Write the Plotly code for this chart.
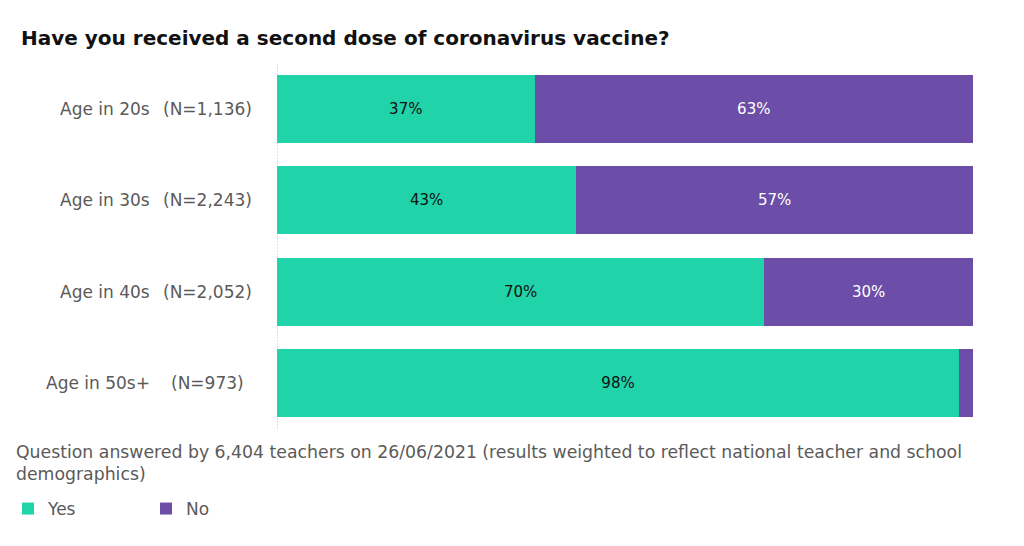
import plotly.graph_objects as go

categories = ["Age in 20s", "Age in 30s", "Age in 40s", "Age in 50s+"]
sample_sizes = ["(N=1,136)", "(N=2,243)", "(N=2,052)", "(N=973)"]
yes_values = [37, 43, 70, 98]
no_values = [63, 57, 30, 2]

title_text = "Have you received a second dose of coronavirus vaccine?"
footnote = ("Question answered by 6,404 teachers on 26/06/2021 (results weighted to reflect national teacher and school"
            "<br>demographics)")

GREEN = "#20D3A9"
PURPLE = "#6C4DA8"
GRAY = "#5a5a5a"
FONT = "DejaVu Sans"

def labels(vals):
    return [f"{v}%" if v >= 5 else "" for v in vals]

fig = go.Figure()
fig.add_trace(go.Bar(
    y=categories, x=yes_values, name="Yes", orientation="h",
    marker=dict(color=GREEN, line=dict(width=0)),
    text=labels(yes_values), textposition="inside", insidetextanchor="middle",
    textfont=dict(color="#111111", size=15, family=FONT), hoverinfo="x+name",
))
fig.add_trace(go.Bar(
    y=categories, x=no_values, name="No", orientation="h",
    marker=dict(color=PURPLE, line=dict(width=0)),
    text=labels(no_values), textposition="inside", insidetextanchor="middle",
    textfont=dict(color="#ffffff", size=15, family=FONT), hoverinfo="x+name",
))

# page offset (body margin) compensation
OFF = 8
W, H = 1024 - OFF, 546 - OFF
ml = 277 - OFF
mr = W - (973 - OFF)
mt = 63 - OFF
mb = H - (429 - OFF)
pw = W - ml - mr
ph = H - mt - mb

def px_x(x):
    return (x - OFF - ml) / pw

def px_y(y):
    return (H - mb - (y - OFF)) / ph

annotations = []
for cat, n in zip(categories, sample_sizes):
    annotations.append(dict(x=px_x(152), xref="paper", y=cat, yref="y", text=cat,
                            showarrow=False, xanchor="right", yanchor="middle",
                            font=dict(family=FONT, size=17, color=GRAY)))
    annotations.append(dict(x=px_x(207), xref="paper", y=cat, yref="y", text=n,
                            showarrow=False, xanchor="center", yanchor="middle",
                            font=dict(family=FONT, size=17, color=GRAY)))

annotations.append(dict(x=px_x(19), xref="paper", y=px_y(38), yref="paper", text=f"<b>{title_text}</b>",
                        showarrow=False, xanchor="left", yanchor="middle",
                        font=dict(family=FONT, size=20, color="#111111")))
annotations.append(dict(x=px_x(14), xref="paper", y=px_y(440), yref="paper", text=footnote,
                        showarrow=False, xanchor="left", yanchor="top", align="left",
                        font=dict(family=FONT, size=17.3, color=GRAY)))

fig.update_layout(
    width=W, height=H,
    margin=dict(l=ml, r=mr, t=mt, b=mb, pad=0),
    barmode="stack", bargap=0.26,
    plot_bgcolor="white", paper_bgcolor="white",
    font=dict(family=FONT, size=17, color=GRAY),
    xaxis=dict(range=[0, 100], showgrid=False, zeroline=False, showticklabels=False,
               showline=False, fixedrange=True),
    yaxis=dict(autorange="reversed", showgrid=False, zeroline=False, showticklabels=False,
               showline=False, fixedrange=True),
    showlegend=True,
    legend=dict(orientation="h", xref="container", yref="container",
                x=(0 - OFF) / W, xanchor="left", y=(H - (509 - OFF)) / H, yanchor="middle",
                entrywidth=93, entrywidthmode="pixels", traceorder="normal",
                font=dict(family=FONT, size=17, color=GRAY), bgcolor="rgba(0,0,0,0)"),
    annotations=annotations,
    shapes=[dict(type="line", xref="x", x0=0, x1=0, yref="paper", y0=0, y1=1,
                 line=dict(color="#c4c4c4", width=1, dash="2px,1px"), layer="below")],
)

fig.write_html("out.html")
